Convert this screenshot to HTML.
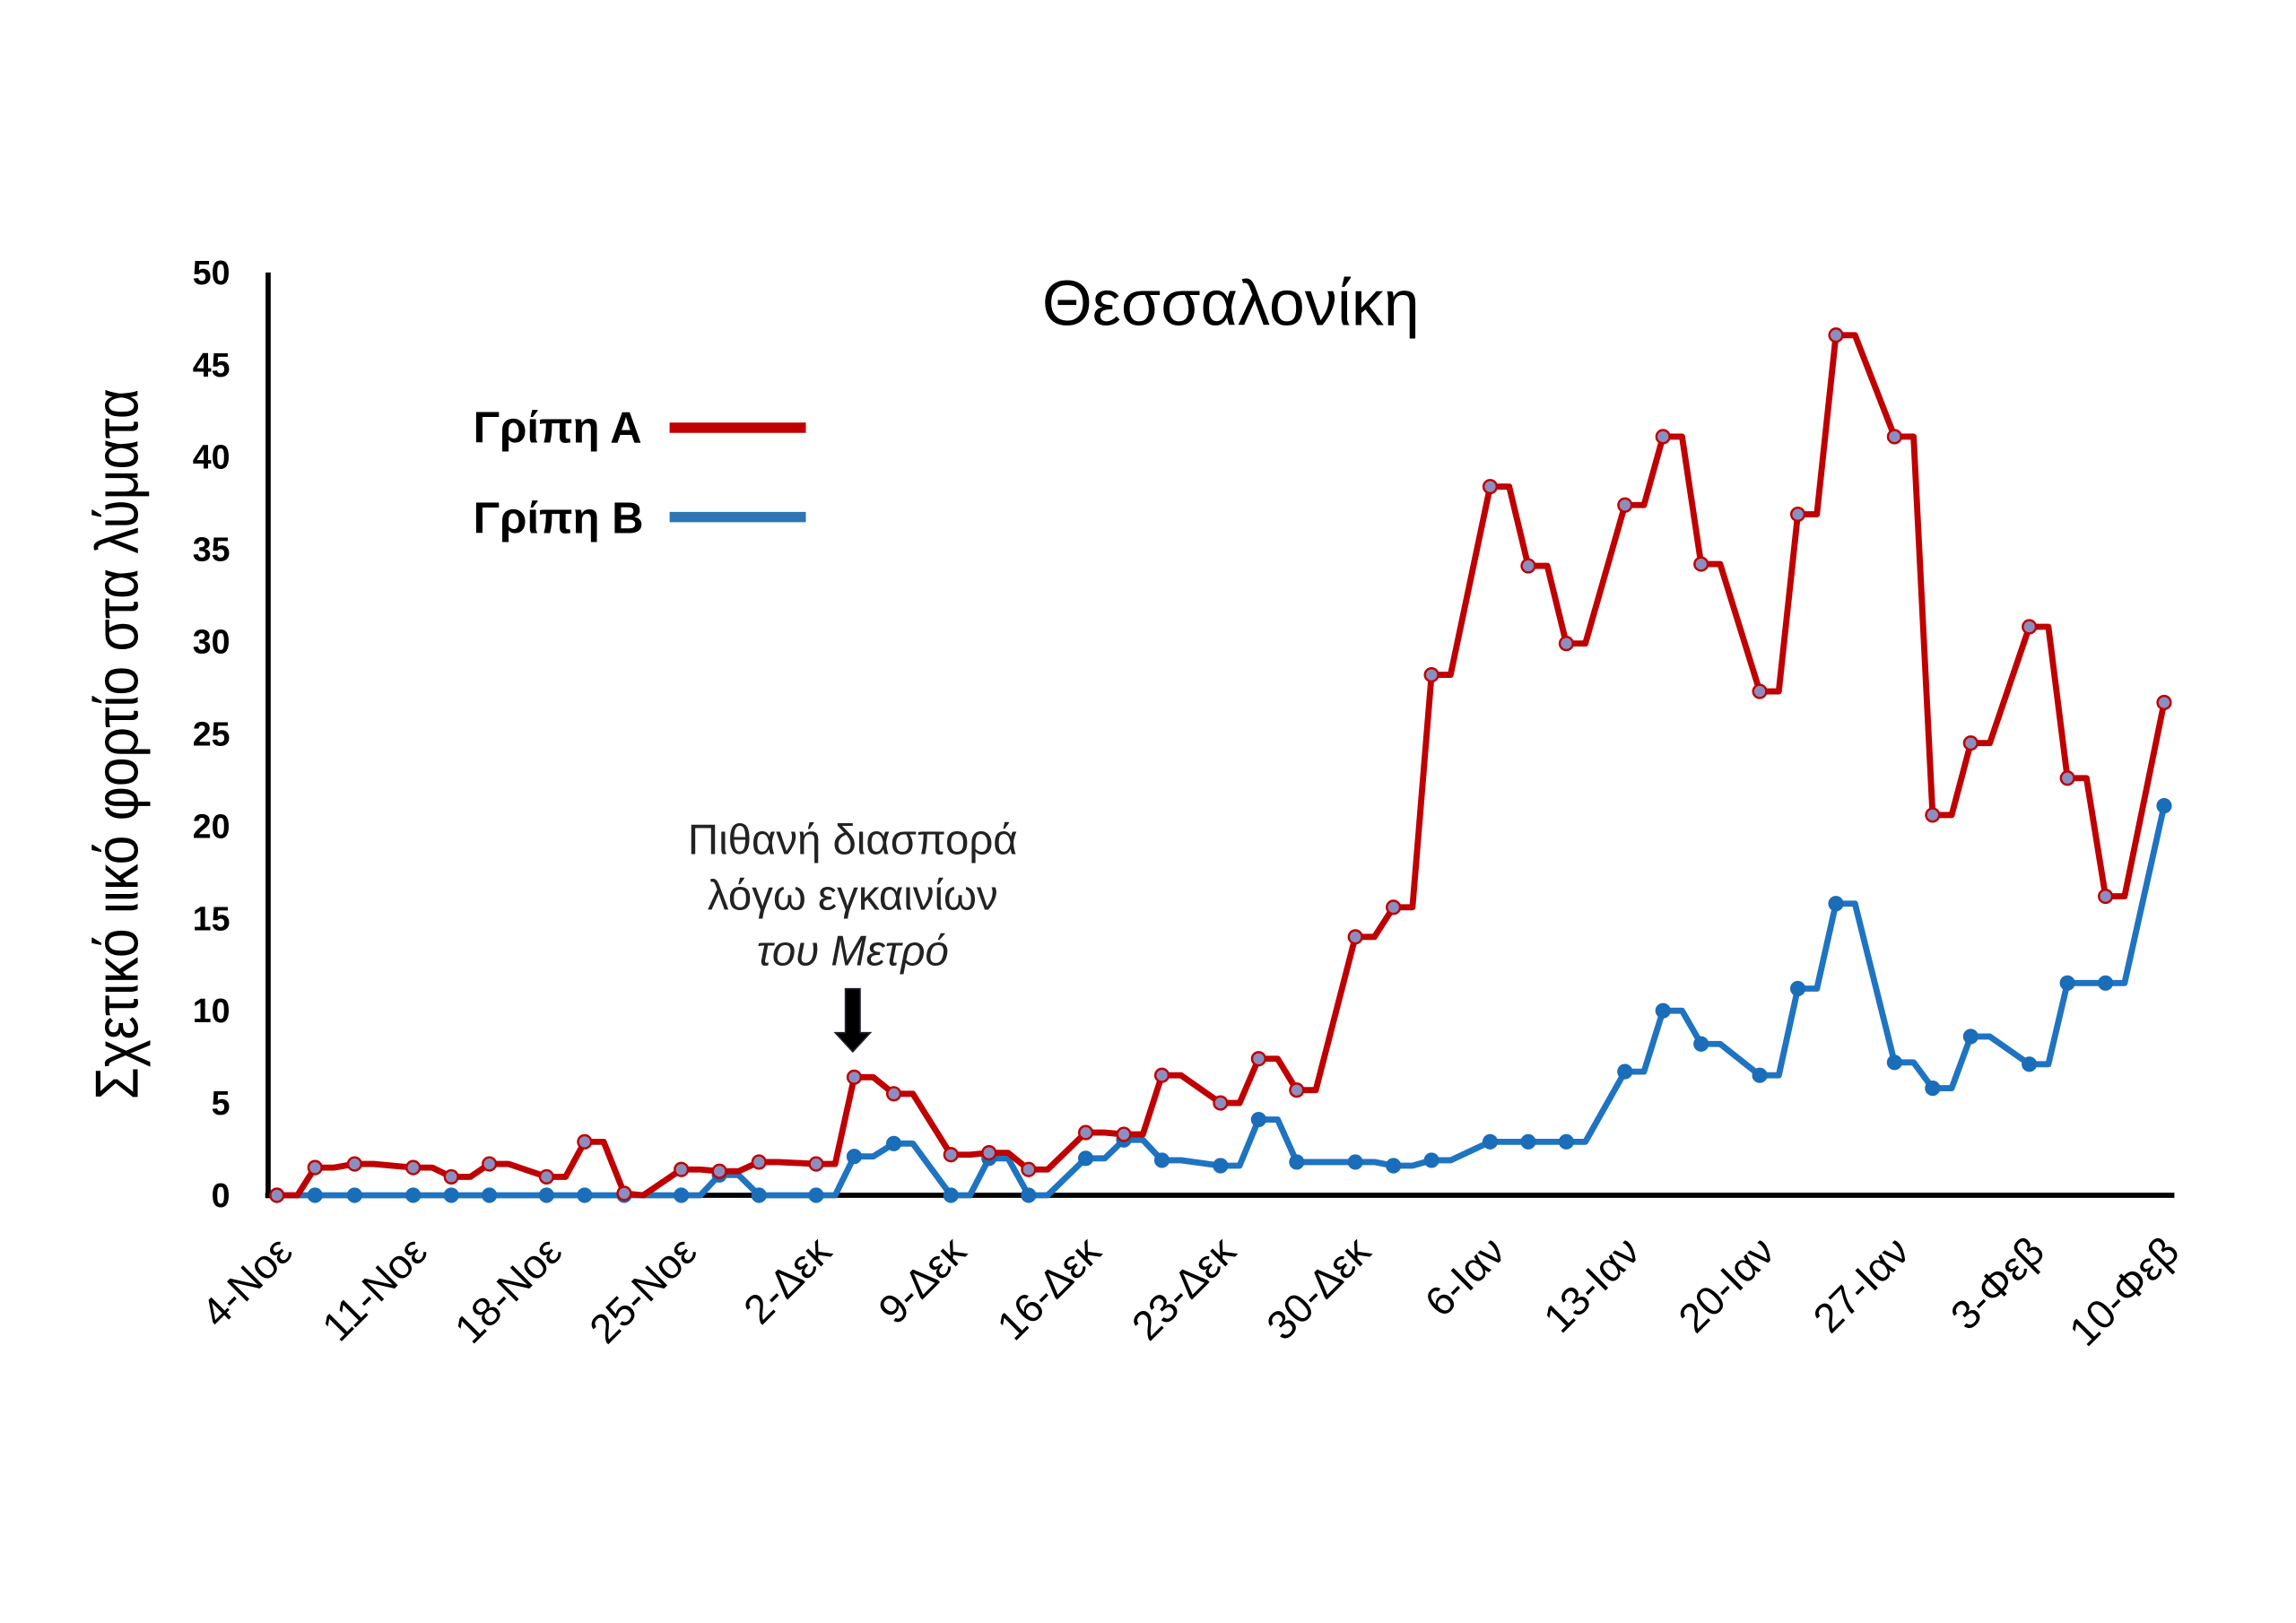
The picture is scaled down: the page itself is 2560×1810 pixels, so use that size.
<!DOCTYPE html>
<html><head><meta charset="utf-8"><style>
html,body{margin:0;padding:0;background:#fff;}
svg{display:block;}
text{font-family:"Liberation Sans","DejaVu Sans",sans-serif;}
</style></head><body>
<svg id="s" width="2560" height="1810" viewBox="0 0 1567 1108" preserveAspectRatio="none" xmlns="http://www.w3.org/2000/svg">
<rect width="1567" height="1108" fill="#fff"/>
<g id="yt" font-weight="bold" font-size="23" text-anchor="end" fill="#000"></g>
<line x1="183" y1="186" x2="183" y2="818" stroke="#000" stroke-width="3.5"/>
<line x1="181" y1="816" x2="1484" y2="816" stroke="#000" stroke-width="3.5"/>
<g id="xt" font-size="28" text-anchor="end" fill="#000"></g>
<text x="840" y="222" font-size="44" text-anchor="middle" fill="#000">Θεσσαλονίκη</text>
<text transform="translate(94,508) rotate(-90) scale(1,1.15)" font-size="36" text-anchor="middle" fill="#000">Σχετικό ιικό φορτίο στα λύματα</text>
<text x="323" y="302" font-size="30" font-weight="bold" fill="#000">Γρίπη Α</text>
<line x1="457" y1="292" x2="550" y2="292" stroke="#c00000" stroke-width="7"/>
<text x="323" y="364" font-size="30" font-weight="bold" fill="#000">Γρίπη Β</text>
<line x1="457" y1="353" x2="550" y2="353" stroke="#2e75b6" stroke-width="7"/>
<g font-size="29" text-anchor="middle" fill="#222">
<text x="582" y="583">Πιθανή διασπορά</text>
<text x="582" y="621">λόγω εγκαινίων</text>
<text x="582" y="659" font-style="italic">του Μετρό</text>
</g>
<polygon points="577,675 587,675 587,705 594,705 582,718 570,705 577,705" fill="#000" stroke="#223" stroke-width="1"/>
<g id="d"></g>
</svg>
<script>
var y0=816,u=12.6;function Y(v){return y0-v*u;}
var yt=document.getElementById('yt'),h='';
for(var v=0;v<=50;v+=5)h+='<text x="157" y="'+(Y(v)+8)+'">'+v+'</text>';
yt.innerHTML=h;
var labs=["4-Νοε","11-Νοε","18-Νοε","25-Νοε","2-Δεκ","9-Δεκ","16-Δεκ","23-Δεκ","30-Δεκ","6-Ιαν","13-Ιαν","20-Ιαν","27-Ιαν","3-Φεβ","10-Φεβ"];
h='';for(var i=0;i<labs.length;i++){var x=189+i*7*13.14+12;h+='<text transform="translate('+x+',856) rotate(-45)">'+labs[i]+'</text>';}
document.getElementById('xt').innerHTML=h;
var R=[[189,0,1],[203,0],[215,1.5,1],[228,1.5],[242,1.7,1],[255,1.7],[282,1.5,1],[295,1.5],[308,1.0,1],[321,1.0],[334,1.7,1],[347,1.7],[373,1.0,1],[386,1.0],[399,2.9,1],[412,2.9],[426,0.1,1],[439,0],[465,1.4,1],[478,1.4],[491,1.3,1],[504,1.3],[518,1.8,1],[531,1.8],[557,1.7,1],[570,1.7],[583,6.4,1],[596,6.4],[610,5.5,1],[623,5.5],[649,2.2,1],[662,2.2],[675,2.3,1],[688,2.3],[702,1.4,1],[715,1.4],[741,3.4,1],[754,3.4],[767,3.3,1],[780,3.3],[793,6.5,1],[806,6.5],[833,5.0,1],[846,5.0],[859,7.4,1],[872,7.4],[885,5.7,1],[898,5.7],[925,14,1],[938,14],[951,15.6,1],[964,15.6],[977,28.2,1],[990,28.2],[1017,38.4,1],[1030,38.4],[1043,34.1,1],[1056,34.1],[1069,29.9,1],[1082,29.9],[1109,37.4,1],[1122,37.4],[1135,41.1,1],[1148,41.1],[1161,34.2,1],[1174,34.2],[1201,27.3,1],[1214,27.3],[1227,36.9,1],[1240,36.9],[1253,46.6,1],[1266,46.6],[1293,41.1,1],[1306,41.1],[1319,20.6,1],[1332,20.6],[1345,24.5,1],[1358,24.5],[1385,30.8,1],[1398,30.8],[1411,22.6,1],[1424,22.6],[1437,16.2,1],[1450,16.2],[1477,26.7,1]];
var B=[[189,0,1],[215,0,1],[242,0,1],[282,0,1],[308,0,1],[334,0,1],[373,0,1],[399,0,1],[426,0,1],[465,0,1],[478,0],[491,1.1,1],[504,1.1],[518,0,1],[557,0,1],[570,0],[583,2.1,1],[596,2.1],[610,2.8,1],[623,2.8],[649,0,1],[662,0],[675,2.0,1],[688,2.0],[702,0,1],[715,0],[741,2.0,1],[754,2.0],[767,3.0,1],[780,3.0],[793,1.9,1],[806,1.9],[833,1.6,1],[846,1.6],[859,4.1,1],[872,4.1],[885,1.8,1],[898,1.8],[925,1.8,1],[938,1.8],[951,1.6,1],[964,1.6],[977,1.9,1],[990,1.9],[1017,2.9,1],[1043,2.9,1],[1069,2.9,1],[1082,2.9],[1109,6.7,1],[1122,6.7],[1135,10,1],[1148,10],[1161,8.2,1],[1174,8.2],[1201,6.5,1],[1214,6.5],[1227,11.2,1],[1240,11.2],[1253,15.8,1],[1266,15.8],[1293,7.2,1],[1306,7.2],[1319,5.8,1],[1332,5.8],[1345,8.6,1],[1358,8.6],[1385,7.1,1],[1398,7.1],[1411,11.5,1],[1424,11.5],[1437,11.5,1],[1450,11.5],[1477,21.1,1]];
function ser(P,c,mf,ms){var p='',m='';P.forEach(function(q,i){p+=(i?'L':'M')+q[0]+','+Y(q[1]).toFixed(1);if(q[2])m+='<circle cx="'+q[0]+'" cy="'+Y(q[1]).toFixed(1)+'" r="4.5" fill="'+mf+'" stroke="'+ms+'" stroke-width="1.5"/>';});
return '<path d="'+p+'" fill="none" stroke="'+c+'" stroke-width="4.2" stroke-linejoin="round"/>'+m;}
document.getElementById('d').innerHTML=ser(B,'#1f74c1','#1a6db8','#1a6db8')+ser(R,'#c00000','#8a8fbf','#c00000');
</script>
</body></html>
